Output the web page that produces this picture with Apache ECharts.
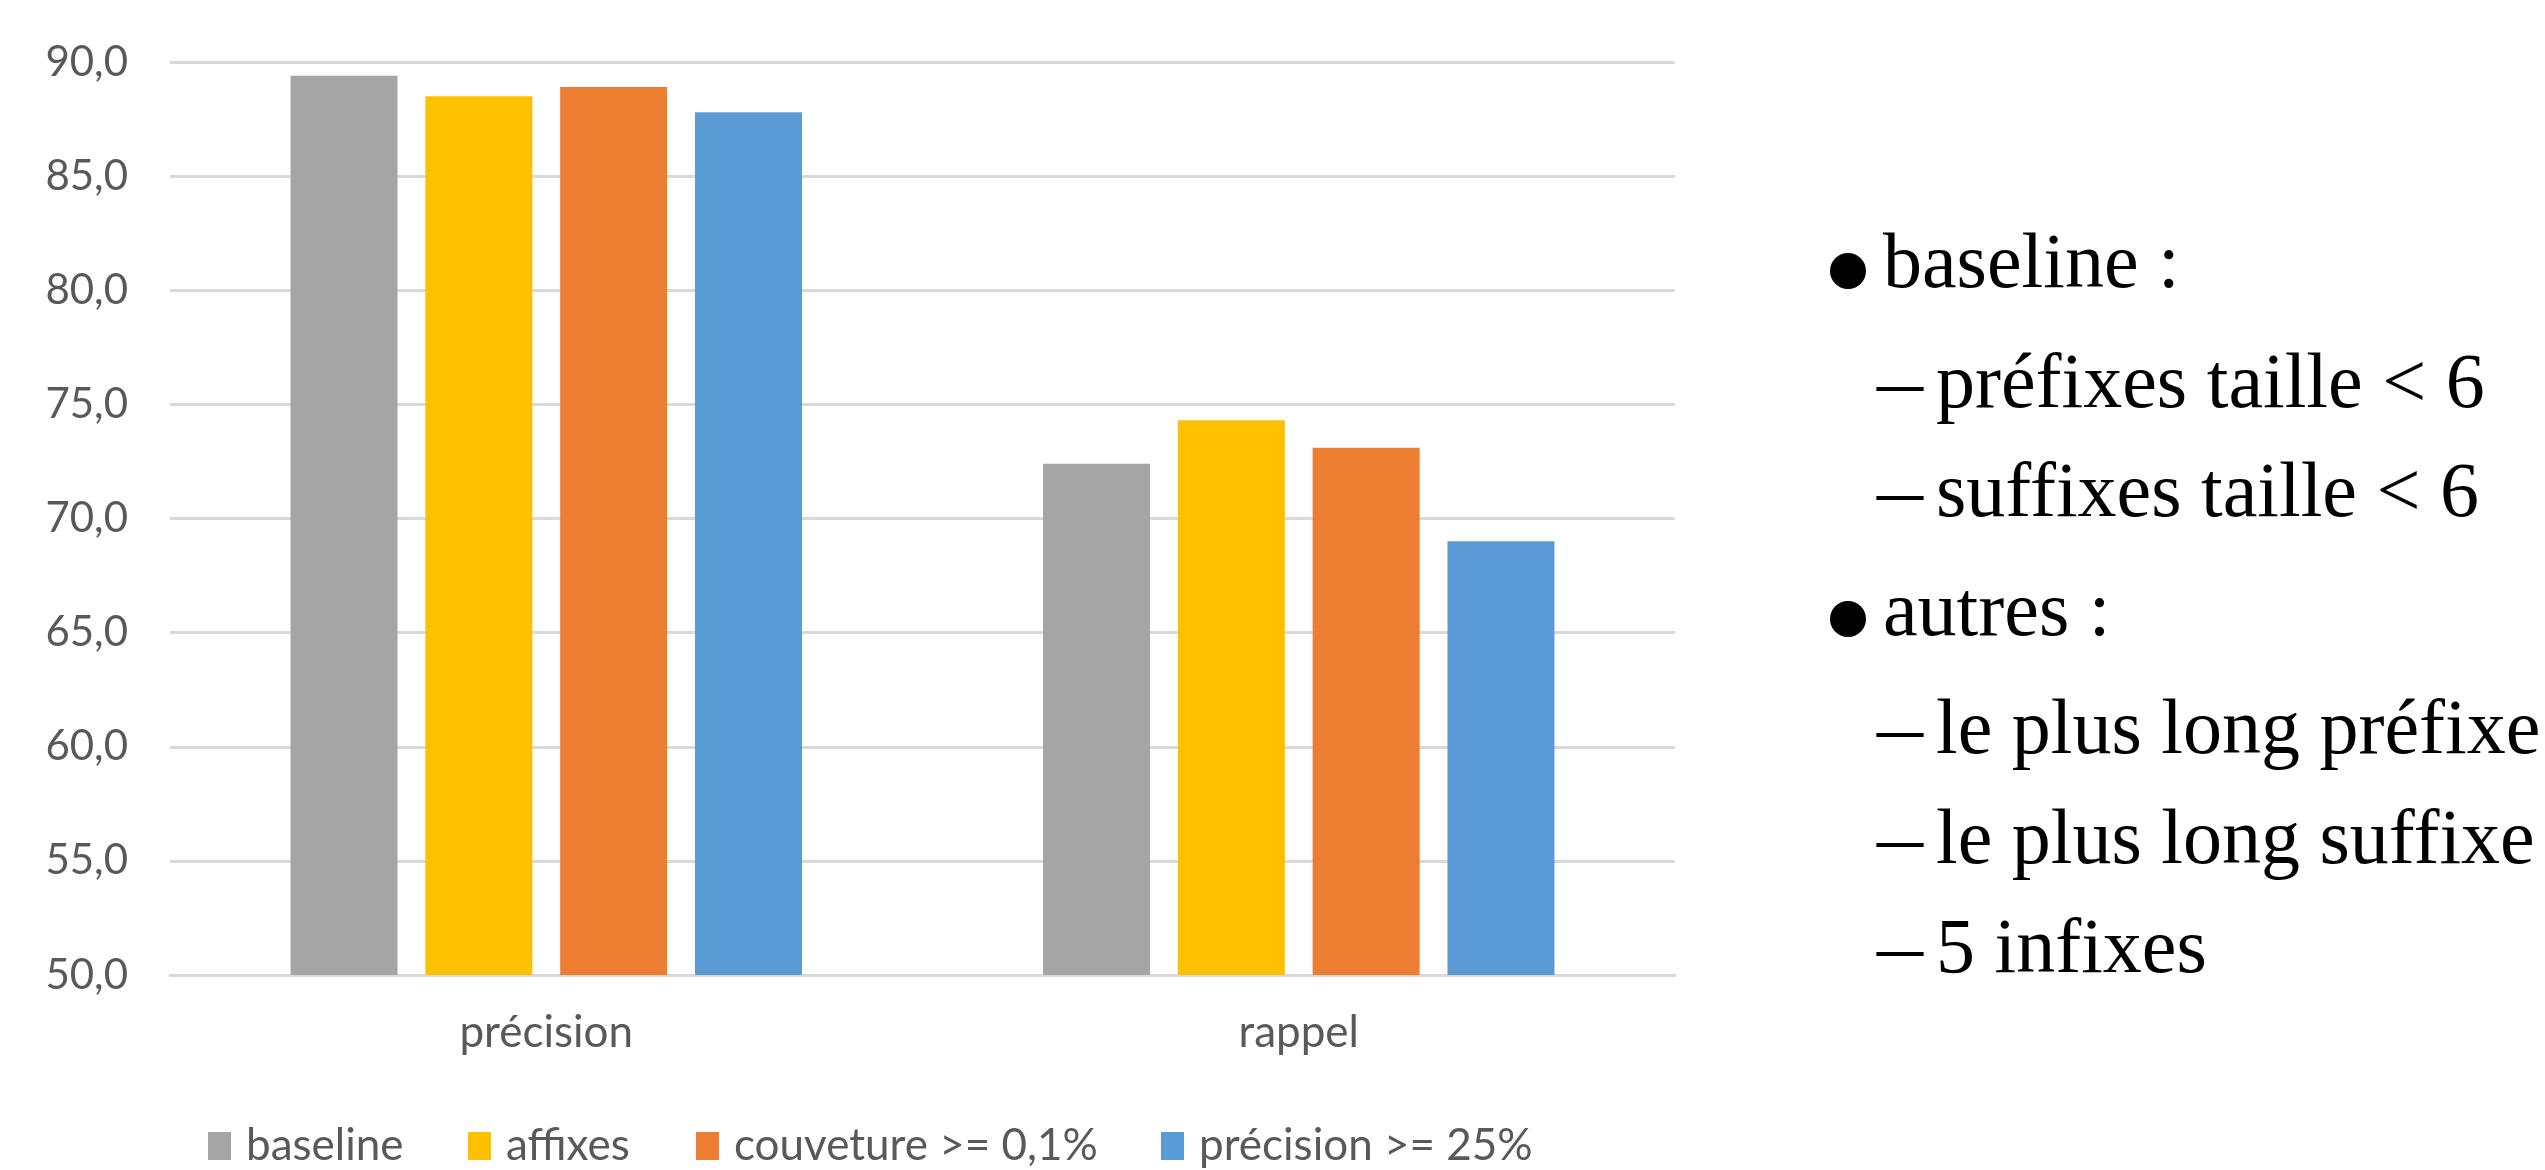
<!DOCTYPE html>
<html>
<head>
<meta charset="utf-8">
<script src="https://cdn.jsdelivr.net/npm/echarts@6/dist/echarts.min.js"></script>
<style>
html,body{margin:0;padding:0;background:#fff;}
#chart{width:2545px;height:1170px;}
</style>
</head>
<body>
<div id="chart"></div>
<script>
const categories = ['précision', 'rappel'];
const seriesNames = ['baseline', 'affixes', 'couveture >= 0,1%', 'précision >= 25%'];
const baselineVals = [89.4, 72.4];
const affixesVals = [88.5, 74.3];
const couvertureVals = [88.9, 73.1];
const precisionVals = [87.8, 69.0];
const yTicks = [50, 55, 60, 65, 70, 75, 80, 85, 90];
const noteLines = [
  {level: 1, text: 'baseline :'},
  {level: 2, text: 'préfixes taille < 6'},
  {level: 2, text: 'suffixes taille < 6'},
  {level: 1, text: 'autres :'},
  {level: 2, text: 'le plus long préfixe'},
  {level: 2, text: 'le plus long suffixe'},
  {level: 2, text: '5 infixes'}
];

const colors = ['#A5A5A5', '#FFC000', '#ED7D31', '#5B9BD5'];
const values = [baselineVals, affixesVals, couvertureVals, precisionVals];
const labelFont = 'Lato';
const textColor = '#595959';

// right-hand notes
const baselinesY = [289, 409, 518, 637, 755, 865, 974];
const fs = 78;
const serif = fs + 'px "Liberation Serif"';
const descent = Math.round(0.216 * fs);
const graphics = [];
noteLines.forEach((ln, i) => {
  const by = baselinesY[i];
  if (ln.level === 1) {
    graphics.push({type: 'circle', shape: {cx: 1848, cy: by - 18, r: 18}, style: {fill: '#000'}});
    graphics.push({type: 'text', x: 1883, y: by + descent, style: {text: ln.text, font: serif, fill: '#000', verticalAlign: 'bottom'}});
  } else {
    graphics.push({type: 'text', x: 1877, y: by + descent, scaleX: 1.18, style: {text: '–', font: serif, fill: '#000', verticalAlign: 'bottom'}});
    graphics.push({type: 'text', x: 1936, y: by + descent, style: {text: ln.text, font: serif, fill: '#000', verticalAlign: 'bottom'}});
  }
});

const legendX = [208, 468, 696, 1161];
const legends = seriesNames.map((n, i) => ({
  data: [n],
  left: legendX[i],
  top: 1124,
  padding: 0,
  itemWidth: 23,
  itemHeight: 28,
  icon: 'rect',
  selectedMode: false,
  textStyle: {fontFamily: labelFont, fontSize: 44, color: textColor, padding: [0, 0, 0, 10]}
}));

const chart = echarts.init(document.getElementById('chart'));
chart.setOption({
  animation: false,
  backgroundColor: '#fff',
  grid: {left: 170, right: 2545 - 1675, top: 62, bottom: 1170 - 975, containLabel: false},
  legend: legends,
  xAxis: {
    type: 'category',
    data: categories,
    axisLine: {show: true, lineStyle: {color: '#d9d9d9', width: 3}},
    axisTick: {show: false},
    axisLabel: {fontFamily: labelFont, fontSize: 44, color: textColor, margin: 36}
  },
  yAxis: {
    type: 'value',
    min: yTicks[0],
    max: yTicks[yTicks.length - 1],
    interval: 5,
    axisLine: {show: false},
    axisTick: {show: false},
    splitLine: {lineStyle: {color: '#d9d9d9', width: 3}},
    axisLabel: {fontFamily: labelFont, fontSize: 42, color: textColor, margin: 42,
      formatter: v => v.toFixed(1).replace('.', ',')}
  },
  series: seriesNames.map((n, i) => ({
    name: n,
    type: 'bar',
    data: values[i],
    barWidth: 107,
    barGap: '26%',
    itemStyle: {color: colors[i]}
  })),
  graphic: graphics
});
</script>
</body>
</html>
